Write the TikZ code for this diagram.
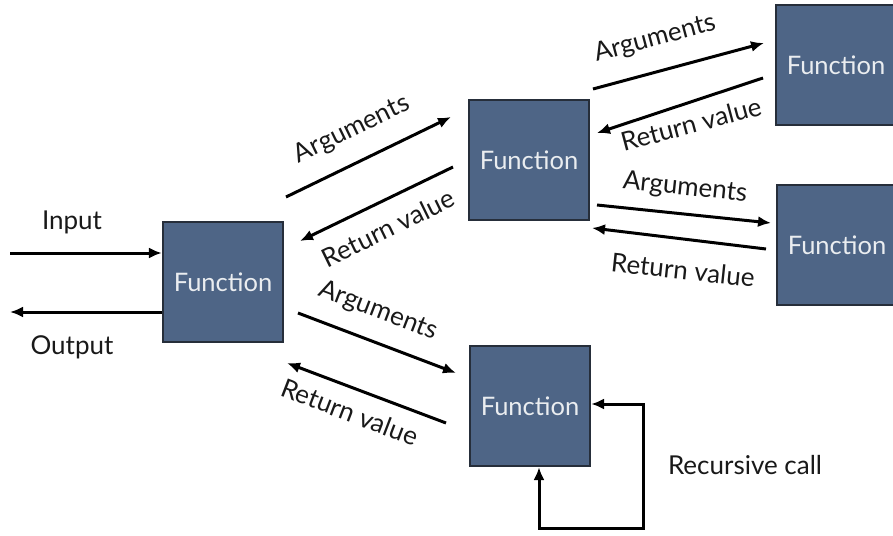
\documentclass[tikz,border=0pt]{standalone}
\usepackage{fontspec}
\setmainfont{Lato}
\usetikzlibrary{arrows.meta}
\definecolor{boxfill}{RGB}{78,101,134}
\definecolor{boxline}{RGB}{38,46,58}
\definecolor{labeltext}{RGB}{25,25,25}
\begin{document}
\begin{tikzpicture}[x=1pt,y=-1pt,
  fbox/.style={draw=boxline, line width=2.2pt, fill=boxfill, minimum width=120pt, minimum height=120pt,
    text=white!88!boxfill, font=\fontsize{25.5}{28}\selectfont, inner sep=0pt},
  conn/.style={line width=3pt, -{Latex[length=13pt,width=11pt]}},
  dconn/.style={line width=3pt, {Latex[length=13pt,width=11pt]}-{Latex[length=13pt,width=11pt]}},
  lbl/.style={font=\fontsize{26}{29}\selectfont, text=labeltext, inner sep=0pt}]
\useasboundingbox (0,0) rectangle (893,535);
% boxes
\node[fbox] (M) at (223,282) {Function};
\node[fbox] (T) at (529,160) {Function};
\node[fbox] (TR) at (836,65) {Function};
\node[fbox] (MR) at (837,245) {Function};
\node[fbox] (B) at (530,406) {Function};
% input / output
\coordinate (in0) at (10,253);
\coordinate (out0) at (10,312);
\draw[conn] (in0) -- (in0 -| M.west);
\draw[conn] (out0 -| M.west) -- (out0);
\node[lbl] (lin) at (72,222) {Input};
\node[lbl] (lout) at (72,347) {Output};
% M <-> T
\coordinate (a1s) at (286,197); \coordinate (a1e) at (451,117);
\coordinate (r1s) at (453,167); \coordinate (r1e) at (300,241);
\draw[conn] (a1s) -- (a1e);
\draw[conn] (r1s) -- (r1e);
\node[lbl, rotate=26] (la1) at (352,130) {Arguments};
\node[lbl, rotate=26] (lr1) at (388,228) {Return value};
% T <-> TR
\coordinate (a2s) at (593,89); \coordinate (a2e) at (764,43);
\coordinate (r2s) at (763,78); \coordinate (r2e) at (597,133);
\draw[conn] (a2s) -- (a2e);
\draw[conn] (r2s) -- (r2e);
\node[lbl, rotate=15] (la2) at (655,39) {Arguments};
\node[lbl, rotate=15] (lr2) at (691,124) {Return value};
% T <-> MR
\coordinate (a3s) at (597,205); \coordinate (a3e) at (771,223);
\coordinate (r3s) at (766,249); \coordinate (r3e) at (592,228);
\draw[conn] (a3s) -- (a3e);
\draw[conn] (r3s) -- (r3e);
\node[lbl, rotate=-6] (la3) at (685,188) {Arguments};
\node[lbl, rotate=-6] (lr3) at (683,270) {Return value};
% M <-> B
\coordinate (a4s) at (298,313); \coordinate (a4e) at (456,373);
\coordinate (r4s) at (446,423); \coordinate (r4e) at (287,363);
\draw[conn] (a4s) -- (a4e);
\draw[conn] (r4s) -- (r4e);
\node[lbl, rotate=-21] (la4) at (378,311) {Arguments};
\node[lbl, rotate=-21] (lr4) at (350,412) {Return value};
% recursive call
\coordinate (rc1) at (643,404);
\coordinate (rc2) at (643,528);
\coordinate (rc3) at (539,528);
\draw[dconn] (rc1 -| B.east) -- (rc1) -- (rc2) -- (rc3) -- (rc3 |- B.south);
\node[lbl] (lrc) at (745,465) {Recursive call};
\end{tikzpicture}
\end{document}
